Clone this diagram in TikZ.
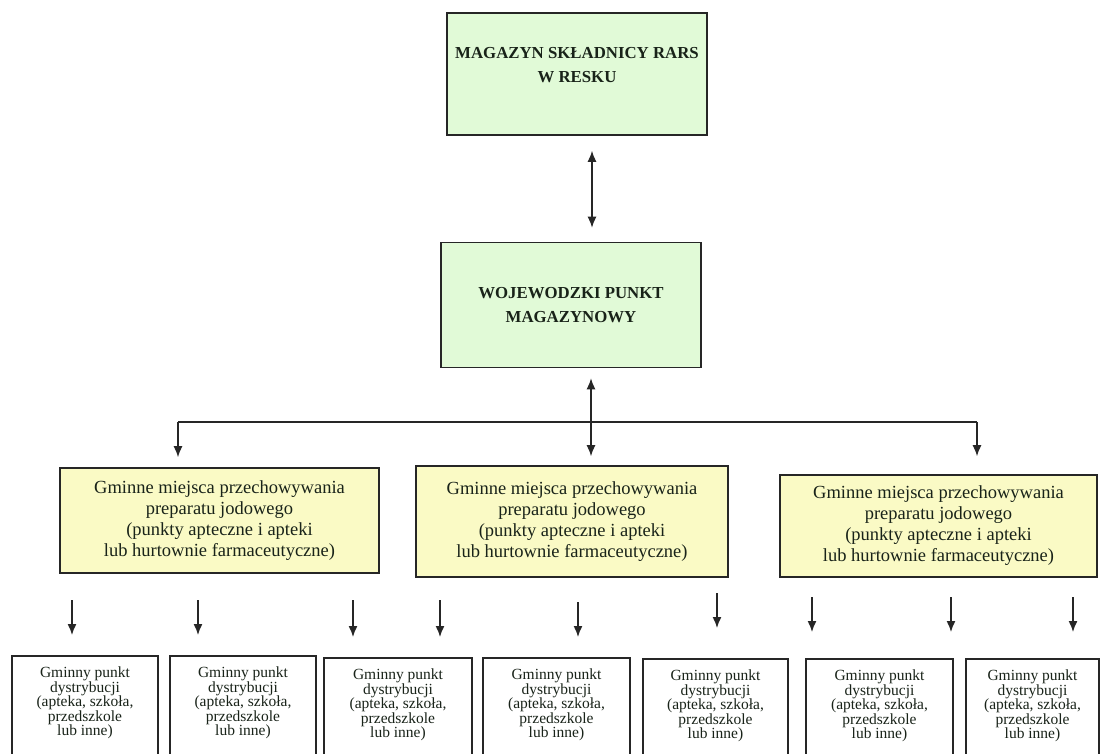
\documentclass[tikz,border=0pt]{standalone}
\usepackage{fontspec}
\setmainfont{Liberation Serif}
\usetikzlibrary{arrows.meta}
\definecolor{boxgreen}{RGB}{225,250,215}
\definecolor{boxyellow}{RGB}{250,250,197}
\definecolor{ink}{RGB}{25,35,25}
\tikzset{>={Latex[length=11pt,width=9pt]}}
\tikzset{
	frame/.style={draw=black!85, line width=1.6pt, text=ink, align=center, inner sep=0pt},
	headbox/.style={frame, fill=boxgreen},
	headtext/.style={text=ink, align=center, font=\bfseries\fontsize{16.8}{24}\selectfont},
	gminabox/.style={frame, fill=boxyellow, font=\fontsize{18.5}{21}\selectfont},
	punktbox/.style={frame, fill=white, anchor=north, minimum height=130pt},
	punkttext/.style={text=ink, align=center, anchor=north, inner sep=0pt, font=\fontsize{15.5}{14.5}\selectfont},
	conn/.style={line width=1.4pt, draw=black!85}
}

\begin{document}
\begin{tikzpicture}[x=1pt, y=-1pt]
%	\draw[help lines, step=50] (0,0) grid (1101,754);
	\path [use as bounding box, fill=white] (0,0) rectangle (1101,754);
	\clip (0,0) rectangle (1101,754);
	\node [headbox, minimum width=260pt, minimum height=122pt] (magazyn) at (577,74) {};
	\node [headtext] (magazyntxt) at ([yshift=9pt]magazyn.center) {MAGAZYN SKŁADNICY RARS\\W RESKU};
	\node [headbox, minimum width=260pt, minimum height=125pt] (wojewodzki) at (571,305) {};
	\node [headtext] (wojewodzkitxt) at (wojewodzki.center) {WOJEWODZKI PUNKT\\MAGAZYNOWY};
	\node [gminabox, minimum width=319pt, minimum height=105pt] (gm1) at (219.5,520.5) {Gminne miejsca przechowywania\\preparatu jodowego\\(punkty apteczne i apteki\\lub hurtownie farmaceutyczne)};
	\node [gminabox, minimum width=312pt, minimum height=111pt] (gm2) at (572,521.5) {Gminne miejsca przechowywania\\preparatu jodowego\\(punkty apteczne i apteki\\lub hurtownie farmaceutyczne)};
	\node [gminabox, minimum width=317pt, minimum height=102pt] (gm3) at (938.5,526) {Gminne miejsca przechowywania\\preparatu jodowego\\(punkty apteczne i apteki\\lub hurtownie farmaceutyczne)};
	\foreach \x/\w/\t [count=\i] in {85/146/655, 243/146/655, 398/148/657, 556.5/147/657, 715.5/145/658, 879.5/147/658, 1032.5/133/658} {
		\node [punktbox, minimum width=\w pt] (p\i) at (\x,\t) {};
		\node [punkttext] (p\i txt) at ([yshift=-12pt]p\i.north) {Gminny punkt\\dystrybucji\\(apteka, szkoła,\\przedszkole\\lub inne)};
	}
	\draw [conn, <->, shorten <=15pt, shorten >=14pt] ([xshift=15pt]magazyn.south) -- ([xshift=15pt]magazyn.south |- wojewodzki.north);
	\draw [conn, <->, shorten <=10pt, shorten >=9pt] ([xshift=20pt]wojewodzki.south) -- ([xshift=20pt]wojewodzki.south |- gm2.north);
	\coordinate (lewy) at (178,422);
	\coordinate (prawy) at (977,422);
	\draw [conn] (lewy) -- (prawy);
	\draw [conn, ->, shorten >=10pt] (lewy) -- (lewy |- gm1.north);
	\draw [conn, ->, shorten >=18pt] (prawy) -- (prawy |- gm3.north);
	\foreach \x/\t/\g/\p in {72/600/20/1, 198/600/20/2, 353/600/20/3, 440/600/20/3, 578/602/20/4, 717/593/30/5, 812/597/26/6, 951/597/26/6, 1073/597/26/7}
		\draw [conn, ->, shorten >=\g pt] (\x,\t) coordinate (s) -- (s |- p\p.north);
\end{tikzpicture}
\end{document}
